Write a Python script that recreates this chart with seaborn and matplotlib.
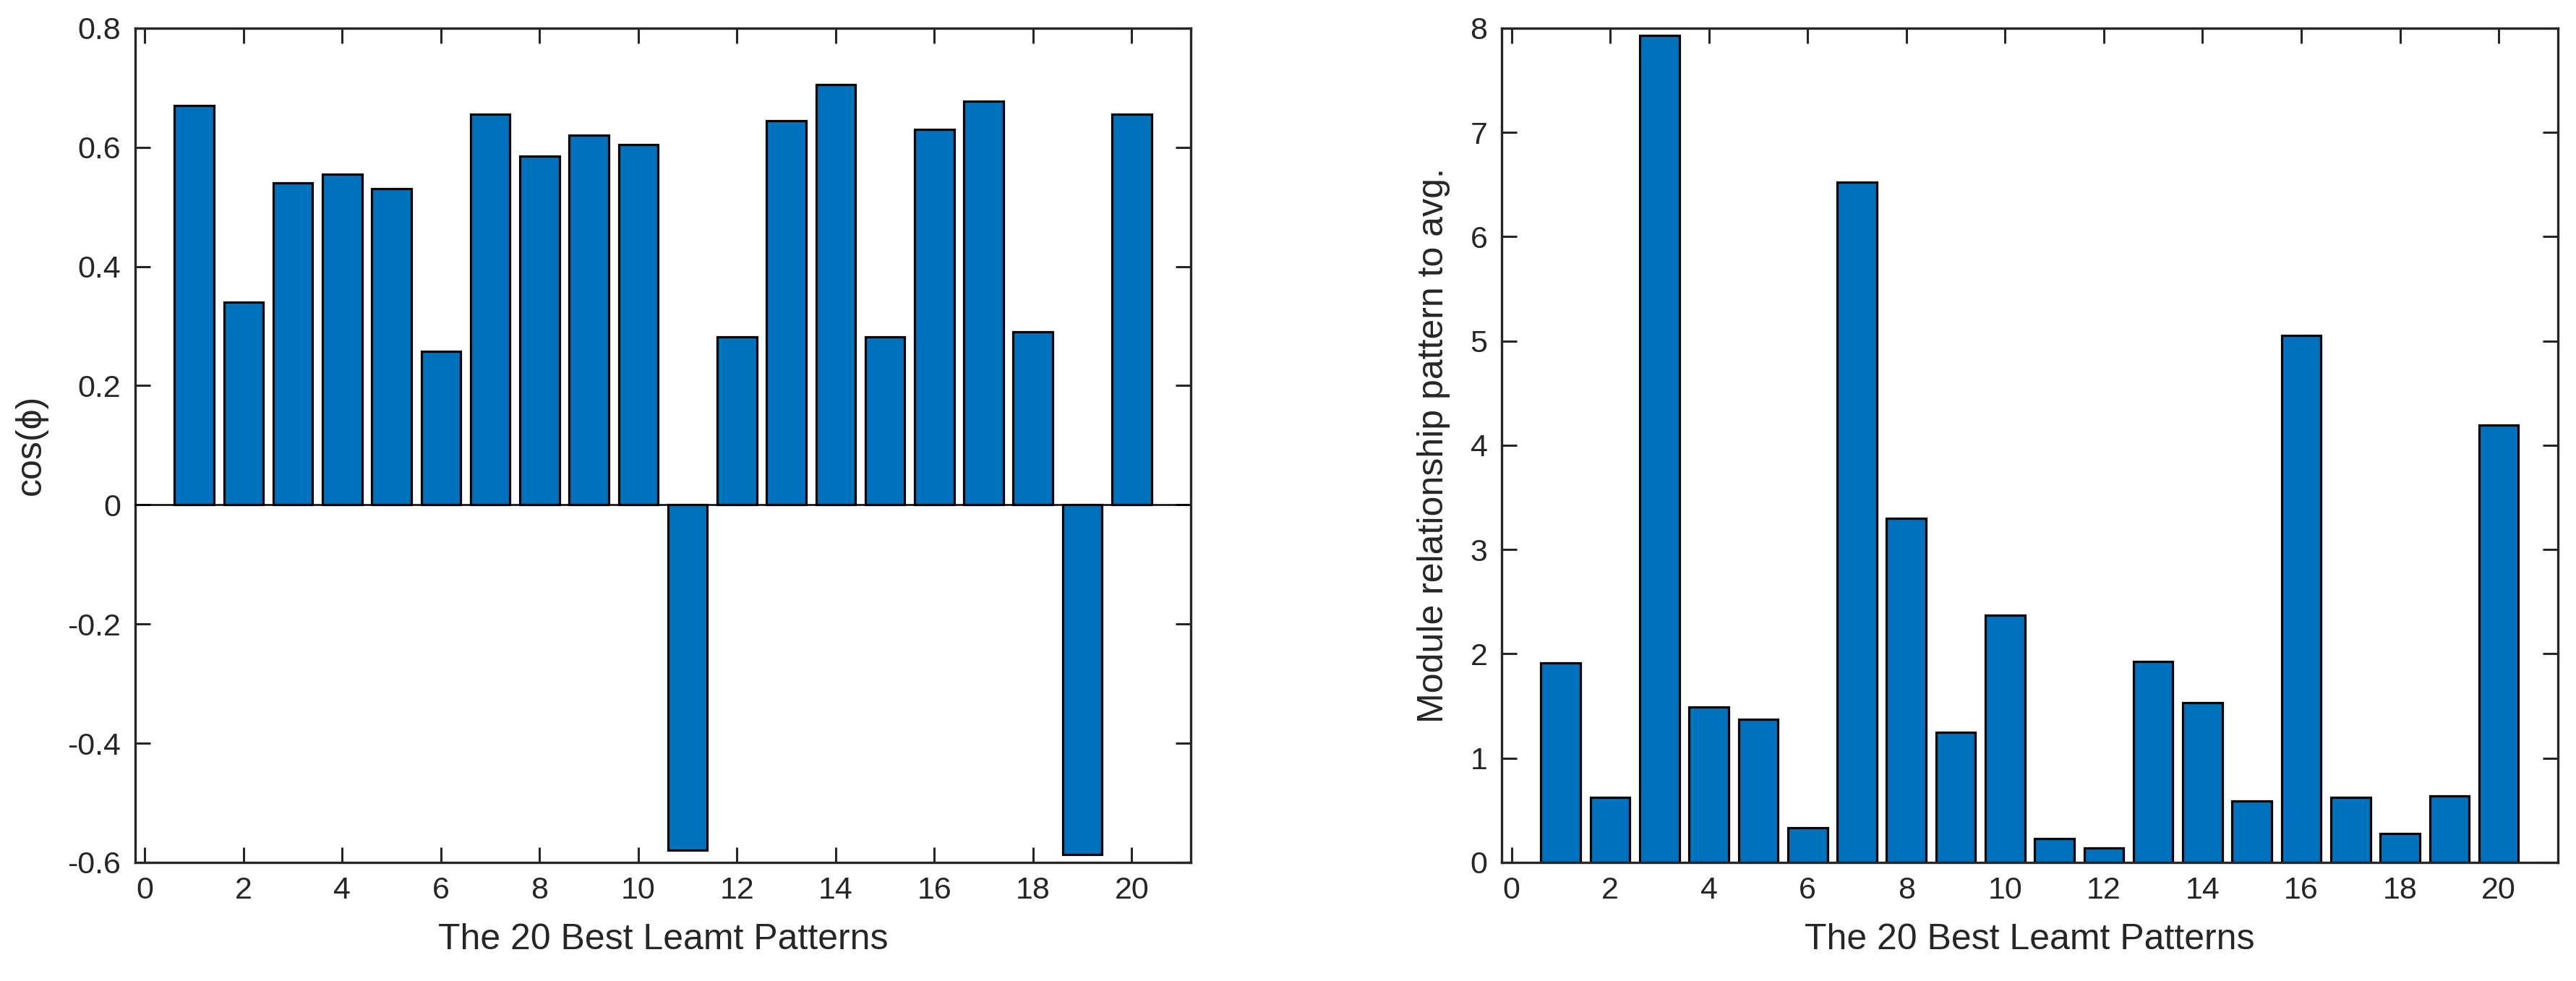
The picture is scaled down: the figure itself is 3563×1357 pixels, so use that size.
import matplotlib
matplotlib.use("Agg")
import matplotlib.pyplot as plt
import numpy as np
import pandas as pd
import seaborn as sns
from matplotlib.ticker import FormatStrFormatter

# Дані з рисунку
patterns = list(range(1, 21))
cos_phi = [0.67, 0.34, 0.54, 0.555, 0.53, 0.258, 0.655, 0.585, 0.62, 0.605,
           -0.58, 0.282, 0.645, 0.705, 0.282, 0.63, 0.677, 0.29, -0.587, 0.655]
module_ratio = [1.91, 0.62, 7.93, 1.49, 1.37, 0.33, 6.52, 3.30, 1.25, 2.37,
                0.23, 0.14, 1.93, 1.53, 0.59, 5.05, 0.62, 0.28, 0.64, 4.19]
x_ticks = list(range(0, 21, 2))
left_yticks = [-0.6, -0.4, -0.2, 0, 0.2, 0.4, 0.6, 0.8]
right_yticks = list(range(0, 9))

xlabel = 'The 20 Best Leamt Patterns'
left_ylabel = 'cos(\u03d5)'
right_ylabel = 'Module relationship pattern to avg.'

sns.set_style('ticks')
plt.rcParams['font.family'] = ['Liberation Sans', 'DejaVu Sans']
plt.rcParams['axes.unicode_minus'] = False

bar_color = '#0072BD'
dark = '#262626'

df = pd.DataFrame({'pattern': patterns, 'cos': cos_phi, 'ratio': module_ratio})

fig = plt.figure(figsize=(35.63, 13.57), dpi=100)
ax1 = fig.add_axes([0.0524, 0.1209, 0.4099, 0.8505])
ax2 = fig.add_axes([0.5829, 0.1209, 0.4101, 0.8505])

sns.barplot(data=df, x='pattern', y='cos', native_scale=True, width=0.8,
            color=bar_color, saturation=1, edgecolor='black', linewidth=2.3, ax=ax1)
ax1.axhline(0, color='black', linewidth=1.8, zorder=3)
ax1.set_ylim(-0.6, 0.8)
ax1.set_yticks(left_yticks)
ax1.yaxis.set_major_formatter(FormatStrFormatter('%g'))
ax1.set_ylabel(left_ylabel, fontsize=36, color=dark, labelpad=20)

sns.barplot(data=df, x='pattern', y='ratio', native_scale=True, width=0.8,
            color=bar_color, saturation=1, edgecolor='black', linewidth=2.3, ax=ax2)
ax2.set_ylim(0, 8)
ax2.set_yticks(right_yticks)
ax2.set_ylabel(right_ylabel, fontsize=36, color=dark, labelpad=20)

for ax in (ax1, ax2):
    ax.set_xlim(-0.2, 21.2)
    ax.set_xticks(x_ticks)
    ax.set_xticklabels([str(t) for t in x_ticks])
    ax.set_xlabel(xlabel, fontsize=36, color=dark, labelpad=18)
    ax.tick_params(direction='in', length=15, width=2.2, colors=dark,
                   labelsize=31, top=True, right=True, pad=14)
    for side in ax.spines.values():
        side.set_visible(True)
        side.set_linewidth(2.4)
        side.set_color(dark)

fig.savefig('out.png', dpi=100)
